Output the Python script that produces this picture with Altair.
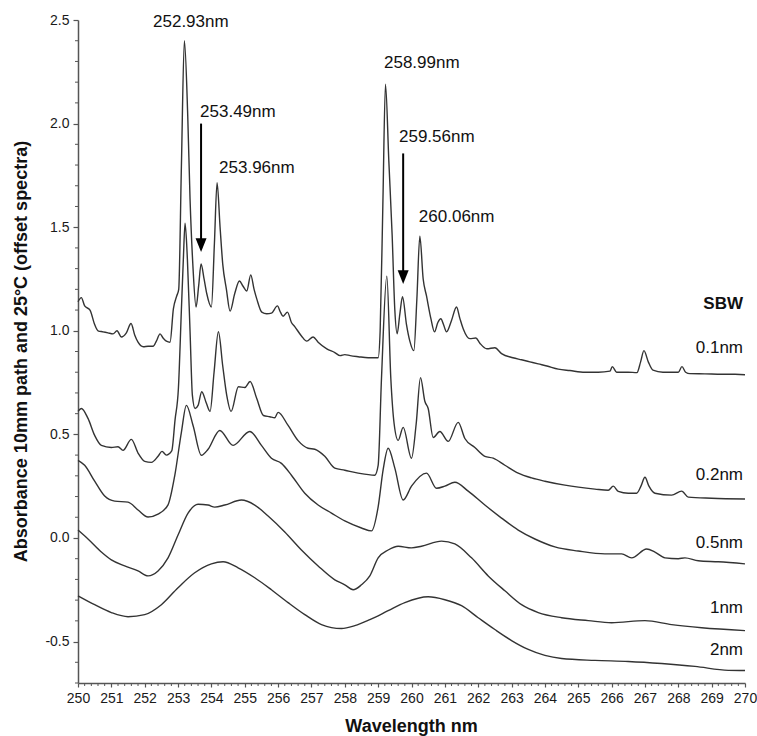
import altair as alt
import pandas as pd

# ---------------- data ----------------
wl_01 = [250.00,250.10,250.20,250.36,250.50,250.60,250.75,250.90,251.05,251.17,
         251.30,251.45,251.59,251.70,251.80,251.96,252.10,252.25,252.35,252.46,
         252.55,252.65,252.76,252.86,252.96,253.02,253.10,253.19,253.29,253.36,
         253.45,253.54,253.62,253.69,253.78,253.86,254.00,254.09,254.17,254.26,
         254.34,254.45,254.56,254.70,254.84,254.95,255.06,255.18,255.28,255.36,
         255.51,255.66,255.80,255.98,256.07,256.15,256.28,256.40,256.50,256.70,
         256.86,257.05,257.20,257.46,257.70,257.86,258.00,258.16,258.40,258.70,
         259.00,259.06,259.14,259.22,259.32,259.42,259.50,259.57,259.65,259.73,
         259.85,259.95,260.07,260.16,260.25,260.35,260.45,260.58,260.69,260.79,
         260.88,260.96,261.05,261.20,261.35,261.45,261.55,261.75,261.93,262.05,
         262.26,262.50,262.70,263.04,263.30,263.55,263.80,264.06,264.40,264.75,
         265.20,265.60,265.95,266.02,266.15,266.50,266.76,266.87,266.97,267.10,
         267.24,267.54,267.80,268.00,268.11,268.22,268.35,268.80,269.30,269.70,
         270.00]
ab_01 = [1.14,1.16,1.12,1.10,1.03,1.00,0.995,0.99,0.985,1.00,
         0.97,0.99,1.035,0.98,0.945,0.923,0.925,0.925,0.95,0.985,
         0.965,0.95,0.945,1.106,1.168,1.20,1.79,2.40,2.04,1.635,
         1.30,1.115,1.22,1.322,1.25,1.18,1.115,1.42,1.715,1.50,
         1.322,1.20,1.095,1.18,1.24,1.215,1.192,1.27,1.20,1.154,
         1.09,1.082,1.085,1.12,1.09,1.07,1.09,1.04,1.02,0.975,
         0.95,0.97,0.945,0.913,0.895,0.88,0.885,0.88,0.875,0.87,
         0.87,1.00,1.60,2.19,1.82,1.46,1.10,0.986,1.08,1.164,
         1.03,0.95,0.904,1.15,1.457,1.25,1.168,1.06,0.995,1.04,
         1.058,1.03,0.995,1.05,1.115,1.06,1.01,0.962,0.965,0.94,
         0.913,0.918,0.89,0.87,0.86,0.85,0.84,0.83,0.815,0.808,
         0.80,0.80,0.805,0.827,0.80,0.80,0.798,0.85,0.904,0.85,
         0.81,0.80,0.80,0.80,0.827,0.80,0.793,0.792,0.79,0.79,
         0.788]

wl_02 = [250.00,250.10,250.30,250.50,250.70,251.00,251.20,251.35,251.60,251.80,
         252.00,252.20,252.40,252.52,252.65,252.81,252.91,253.01,253.10,253.16,
         253.21,253.28,253.36,253.43,253.51,253.60,253.71,253.85,253.96,254.08,
         254.21,254.34,254.46,254.59,254.81,255.00,255.16,255.36,255.56,255.75,
         255.90,256.00,256.30,256.60,256.90,257.10,257.40,257.70,258.00,258.40,
         258.90,259.00,259.10,259.26,259.38,259.48,259.60,259.75,260.00,260.14,
         260.27,260.40,260.50,260.65,260.85,261.10,261.40,261.60,261.90,262.20,
         262.45,262.80,263.20,263.60,264.00,264.60,265.50,265.90,266.05,266.20,
         266.50,266.75,266.88,267.00,267.12,267.30,267.80,268.10,268.30,269.00,
         270.00]
ab_02 = [0.611,0.625,0.577,0.495,0.447,0.437,0.44,0.423,0.476,0.41,
         0.37,0.365,0.394,0.418,0.40,0.42,0.57,0.72,1.10,1.35,
         1.519,1.346,0.995,0.688,0.625,0.64,0.706,0.65,0.611,0.80,
         0.995,0.83,0.688,0.611,0.73,0.726,0.755,0.673,0.591,0.585,
         0.58,0.606,0.543,0.47,0.433,0.428,0.394,0.337,0.327,0.313,
         0.303,0.35,0.77,1.264,0.77,0.55,0.471,0.534,0.385,0.55,
         0.774,0.66,0.625,0.485,0.514,0.466,0.558,0.48,0.437,0.394,
         0.385,0.351,0.313,0.29,0.274,0.255,0.236,0.23,0.25,0.225,
         0.216,0.216,0.25,0.293,0.25,0.216,0.207,0.226,0.197,0.192,
         0.188]

wl_05 = [250.0,250.2,250.5,250.8,251.1,251.5,251.8,252.1,252.4,252.7,
         252.9,253.1,253.25,253.45,253.7,253.9,254.25,254.65,255.15,255.5,
         255.8,256.1,256.4,256.8,257.2,257.6,258.0,258.5,258.8,259.0,
         259.15,259.3,259.5,259.75,260.0,260.45,260.75,261.0,261.3,261.7,
         262.2,262.7,263.2,263.7,264.3,265.0,265.8,266.3,266.6,267.05,
         267.3,267.6,268.0,268.2,268.6,269.2,270.0]
ab_05 = [0.375,0.351,0.274,0.202,0.178,0.173,0.135,0.101,0.115,0.16,
         0.30,0.51,0.64,0.543,0.399,0.428,0.519,0.447,0.514,0.447,
         0.385,0.36,0.303,0.216,0.159,0.12,0.082,0.048,0.034,0.15,
         0.33,0.433,0.337,0.183,0.25,0.313,0.24,0.25,0.269,0.226,
         0.159,0.096,0.038,-0.005,-0.043,-0.063,-0.077,-0.077,-0.096,-0.053,
         -0.068,-0.096,-0.1,-0.096,-0.11,-0.115,-0.125]

wl_1 = [250.0,250.3,250.7,251.0,251.4,251.8,252.1,252.4,252.7,253.0,
        253.3,253.6,253.9,254.1,254.4,254.9,255.3,255.7,256.2,256.7,
        257.2,257.7,258.0,258.25,258.5,258.75,259.0,259.3,259.6,260.0,
        260.3,260.9,261.3,261.8,262.3,262.8,263.3,263.8,264.5,265.3,
        266.0,267.0,267.8,268.7,270.0]
ab_1 = [0.038,-0.005,-0.068,-0.106,-0.135,-0.159,-0.183,-0.159,-0.096,0.014,
        0.12,0.163,0.159,0.149,0.159,0.183,0.159,0.106,0.029,-0.058,
        -0.135,-0.202,-0.226,-0.25,-0.226,-0.183,-0.096,-0.058,-0.04,-0.048,
        -0.04,-0.015,-0.029,-0.096,-0.183,-0.255,-0.322,-0.36,-0.385,-0.399,
        -0.409,-0.399,-0.418,-0.433,-0.447]

wl_2 = [250.0,250.5,251.0,251.5,252.0,252.5,253.0,253.5,254.0,254.35,
        254.8,255.3,255.8,256.3,256.8,257.3,257.9,258.3,258.75,259.3,
        259.8,260.5,261.0,261.5,262.0,262.5,263.0,263.5,264.0,264.5,
        265.5,266.5,267.5,268.5,269.5,270.0]
ab_2 = [-0.279,-0.322,-0.36,-0.38,-0.37,-0.322,-0.24,-0.168,-0.125,-0.115,
        -0.144,-0.192,-0.25,-0.312,-0.37,-0.418,-0.437,-0.423,-0.394,-0.351,
        -0.312,-0.284,-0.298,-0.327,-0.385,-0.442,-0.495,-0.538,-0.567,-0.582,
        -0.591,-0.596,-0.606,-0.62,-0.639,-0.64]

series_names = ["0.1nm", "0.2nm", "0.5nm", "1nm", "2nm"]
series_wl = [wl_01, wl_02, wl_05, wl_1, wl_2]
series_ab = [ab_01, ab_02, ab_05, ab_1, ab_2]

# spectrum labels at right edge
label_text = ["0.1nm", "0.2nm", "0.5nm", "1nm", "2nm"]
label_y = [0.918, 0.303, -0.024, -0.337, -0.543]

# peak annotations
peak_text = ["252.93nm", "253.49nm", "253.96nm", "258.99nm", "259.56nm", "260.06nm"]
peak_x = [252.25, 253.66, 254.23, 259.175, 259.625, 260.22]
peak_y = [2.49, 2.058, 1.788, 2.293, 1.9375, 1.548]

# arrows
arrow_x = [253.69, 259.75]
arrow_top = [2.0, 1.856]
arrow_tip = [1.38, 1.226]

x_ticks = list(range(250, 271))
y_ticks = [-0.5, 0.0, 0.5, 1.0, 1.5, 2.0, 2.5]

# ---------------- tables ----------------
rows = []
for name, ws, vs in zip(series_names, series_wl, series_ab):
    assert len(ws) == len(vs), name
    rows += [{"series": name, "w": w, "a": a} for w, a in zip(ws, vs)]
spectra = pd.DataFrame(rows)

x_minor = pd.DataFrame({"w": [round(250 + 0.2 * i, 1) for i in range(101) if i % 5 != 0]})
y_minor = pd.DataFrame({"v": [round(-0.7 + 0.1 * i, 1) for i in range(33) if (i - 2) % 5 != 0]})
labels = pd.DataFrame({"t": label_text, "x": [269.94] * len(label_text), "y": label_y})
sbw = pd.DataFrame({"t": ["SBW"], "x": [269.94], "y": [1.13]})
peaks = pd.DataFrame({"t": peak_text, "x": peak_x, "y": peak_y})
arrows = pd.DataFrame({"x": arrow_x, "y1": arrow_top,
                       "y2": [t + 0.05 for t in arrow_tip], "tip": arrow_tip})

# ---------------- chart ----------------
W, H = 667, 663
FONT = "Liberation Sans"
xs = alt.Scale(domain=[250, 270], nice=False)
ys = alt.Scale(domain=[-0.7, 2.5], nice=False, zero=False)
AX = "#555555"

x_axis = alt.Axis(
    values=x_ticks, title="Wavelength nm", grid=False,
    domainColor=AX, domainWidth=1.5, tickColor=AX, tickWidth=1.2, tickSize=4,
    labelFont=FONT, labelFontSize=14, labelColor="#1a1a1a", labelPadding=4,
    labelFlush=False, format="d",
    titleFont=FONT, titleFontSize=18, titleFontWeight="bold", titleColor="#111111",
    titleX=333, titleY=43, titleBaseline="middle", titleAlign="center")
y_axis = alt.Axis(
    values=y_ticks, title="Absorbance 10mm path and 25°C (offset spectra)", grid=False,
    domainColor=AX, domainWidth=1.5, tickColor=AX, tickWidth=1.2, tickSize=5,
    labelFont=FONT, labelFontSize=14, labelColor="#1a1a1a", labelPadding=4,
    labelExpr="datum.value < 0 ? '-' + format(-datum.value, '.1f') : format(datum.value, '.1f')",
    titleFont=FONT, titleFontSize=18, titleFontWeight="bold", titleColor="#111111",
    titleX=-57, titleY=331, titleAngle=270, titleBaseline="middle", titleAlign="center")


def X(field):
    return alt.X(field, scale=xs, axis=x_axis)


def Y(field):
    return alt.Y(field, scale=ys, axis=y_axis)


lines = alt.Chart(spectra).mark_line(
    color="#333333", strokeWidth=1.4, interpolate="monotone"
).encode(x=X("w:Q"), y=Y("a:Q"), detail="series:N")

xminor = alt.Chart(x_minor).mark_rule(color=AX, strokeWidth=1).encode(
    x=X("w:Q"), y=alt.value(H), y2=alt.value(H + 3),
)
yminor = alt.Chart(y_minor).mark_rule(color=AX, strokeWidth=1).encode(
    y=Y("v:Q"), x=alt.value(0), x2=alt.value(-3),
)

right_labels = alt.Chart(labels).mark_text(
    align="right", baseline="middle", font=FONT, fontSize=17, color="#111111"
).encode(x=X("x:Q"), y=Y("y:Q"), text="t:N")

sbw_label = alt.Chart(sbw).mark_text(
    align="right", baseline="middle", font=FONT, fontSize=17, fontWeight="bold", color="#111111"
).encode(x=X("x:Q"), y=Y("y:Q"), text="t:N")

peak_labels = alt.Chart(peaks).mark_text(
    align="left", baseline="middle", font=FONT, fontSize=17, color="#111111"
).encode(x=X("x:Q"), y=Y("y:Q"), text="t:N")

shafts = alt.Chart(arrows).mark_rule(color="black", strokeWidth=2).encode(
    x=X("x:Q"), y=Y("y1:Q"), y2="y2:Q",
)
heads = alt.Chart(arrows).mark_point(
    shape="M-1,-2.5L1,-2.5L0,0Z", size=121, filled=True, color="black", opacity=1
).encode(x=X("x:Q"), y=Y("tip:Q"))

chart = alt.layer(
    lines, xminor, yminor, right_labels, sbw_label, peak_labels, shafts, heads
).properties(
    width=W, height=H,
    autosize=alt.AutoSizeParams(type="none"),
    padding={"left": 78, "top": 20, "right": 12, "bottom": 53},
    background="white",
).configure_view(stroke=None)

chart.save("out.html", embed_options={"renderer": "svg", "actions": False})
